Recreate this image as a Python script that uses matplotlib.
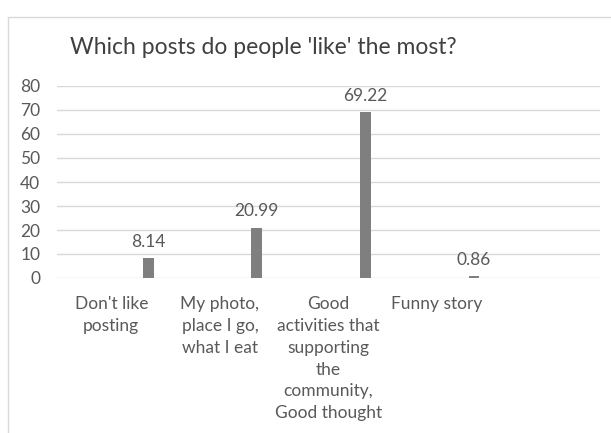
import matplotlib.pyplot as plt
from matplotlib.patches import Rectangle

# data
categories = ["Don't like\nposting", "My photo,\nplace I go,\nwhat I eat",
              "Good\nactivities that\nsupporting\nthe\ncommunity,\nGood thought",
              "Funny story", ""]
values = [8.14, 20.99, 69.22, 0.86]
yticks = [0, 10, 20, 30, 40, 50, 60, 70, 80]

plt.rcParams['font.family'] = ['Lato', 'DejaVu Sans']
textColor = "#595959"
gridColor = "#d9d9d9"
barColor = "#7f7f7f"

fig = plt.figure(figsize=(6.11, 4.33), dpi=100)
# chart frame like excel
fig.patches.append(Rectangle((8/611, -0.1), 1.2, 1 - 17/433 + 0.1, transform=fig.transFigure,
                             fill=False, edgecolor=gridColor, linewidth=1))

ax = fig.add_axes([57/611, 1 - 278/433, 543/611, 192/433])
xs = [i + 0.34 for i in range(len(values))]
bars = ax.bar(xs, values, width=0.1, color=barColor, zorder=3)
ax.bar_label(bars, fmt="%.2f", padding=6, fontsize=12.5, color=textColor)

ax.set_xlim(-0.5, len(categories) - 0.5)
ax.set_ylim(0, 80)
ax.set_yticks(yticks)
ax.set_yticklabels([str(t) for t in yticks], fontsize=12.5, color=textColor)
ax.set_xticks(range(len(categories)))
ax.set_xticklabels(categories, fontsize=12.5, color=textColor, linespacing=1.45)
ax.tick_params(axis="both", length=0)
ax.tick_params(axis="y", pad=12)
ax.tick_params(axis="x", pad=13)
ax.grid(axis="y", color=gridColor, linewidth=1, zorder=0)
for s in ax.spines.values():
    s.set_visible(False)

fig.text(70/611, 1 - 47/433, "Which posts do people 'like' the most?", fontsize=16.5,
         color="#404040", va="center", ha="left")

fig.savefig("out.png", dpi=100)
